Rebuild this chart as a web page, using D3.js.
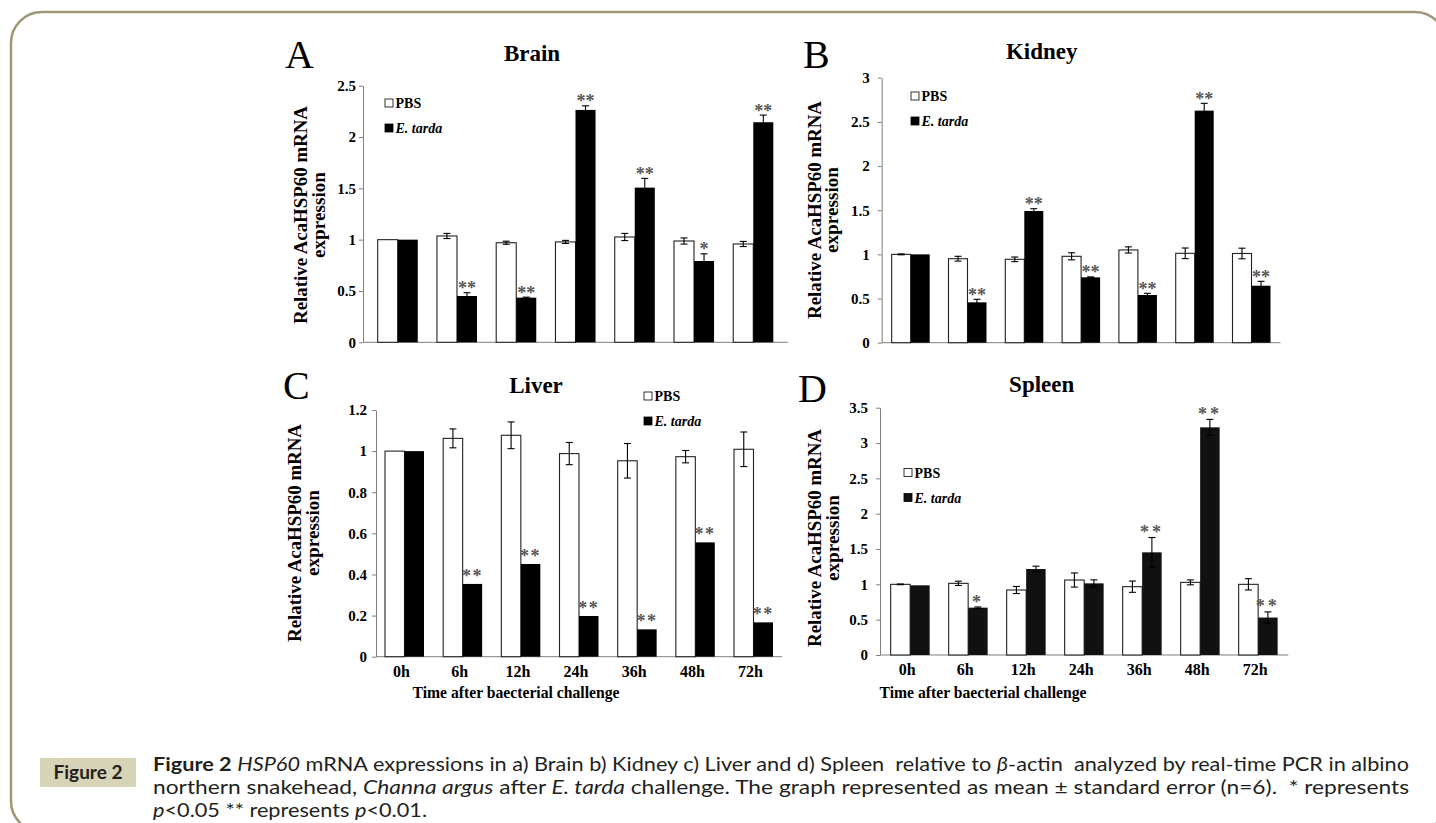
<!DOCTYPE html>
<html>
<head>
<meta charset="utf-8">
<style>
body { margin: 0; background: #fff; }
svg { display: block; }
.serif { font-family: "Liberation Serif", "Times New Roman", serif; }
.axis .domain, .axis line { stroke: #7f7f7f; }
.axis text { font: bold 15px "Liberation Serif", serif; fill: #000; }
.caption { font-family: Lato, "Open Sans", sans-serif; fill: #231f20; white-space: pre; }
</style>
<script src="https://d3js.org/d3.v7.min.js"></script>
</head>
<body>
<svg width="1436" height="823"></svg>
<script>
// data
var times = ["0h", "6h", "12h", "24h", "36h", "48h", "72h"];
var series = ["PBS", "E. tarda"];

var brainTicks = [0, 0.5, 1, 1.5, 2, 2.5];
var brainPBS = [1.00, 1.036, 0.970, 0.978, 1.026, 0.987, 0.958];
var brainPBSErr = [0, 0.025, 0.015, 0.015, 0.035, 0.03, 0.025];
var brainEt = [1.00, 0.451, 0.435, 2.264, 1.507, 0.792, 2.144];
var brainEtErr = [0, 0.032, 0.005, 0.04, 0.09, 0.07, 0.07];
var brainSig = ["", "**", "**", "**", "**", "*", "**"];

var kidneyTicks = [0, 0.5, 1, 1.5, 2, 2.5, 3];
var kidneyPBS = [1.00, 0.951, 0.944, 0.978, 1.050, 1.012, 1.010];
var kidneyPBSErr = [0.005, 0.027, 0.026, 0.04, 0.035, 0.06, 0.06];
var kidneyEt = [1.00, 0.457, 1.491, 0.740, 0.540, 2.627, 0.645];
var kidneyEtErr = [0, 0.034, 0.026, 0.005, 0.019, 0.083, 0.05];
var kidneySig = ["", "**", "**", "**", "**", "**", "**"];

var liverTicks = [0, 0.2, 0.4, 0.6, 0.8, 1, 1.2];
var liverPBS = [1.00, 1.062, 1.077, 0.988, 0.953, 0.973, 1.009];
var liverPBSErr = [0, 0.046, 0.065, 0.054, 0.084, 0.03, 0.084];
var liverEt = [1.00, 0.354, 0.451, 0.198, 0.133, 0.556, 0.167];
var liverEtErr = [0, 0, 0, 0, 0, 0, 0];
var liverSig = ["", "**", "**", "**", "**", "**", "**"];

var spleenTicks = [0, 0.5, 1, 1.5, 2, 2.5, 3, 3.5];
var spleenPBS = [1.00, 1.014, 0.920, 1.061, 0.967, 1.028, 1.000];
var spleenPBSErr = [0.005, 0.03, 0.05, 0.1, 0.08, 0.035, 0.08];
var spleenEt = [0.986, 0.670, 1.217, 1.014, 1.453, 3.222, 0.530];
var spleenEtErr = [0, 0.01, 0.04, 0.05, 0.21, 0.113, 0.08];
var spleenSig = ["", "*", "", "", "**", "**", "**"];

var panels = [
  {letter: "A", title: "Brain", pbs: brainPBS, pbsErr: brainPBSErr, et: brainEt, etErr: brainEtErr, sig: brainSig, ticks: brainTicks,
   L: {xs: 363, xe: 788, y0: 342.3, yt: 85.7, pi: 0.324, po: 0.248, tickPad: 3,
       lx: 285, ly: 68, tx: 532, ty: 61, gx: 385, gy: 99, yl1: 307, yl2: 324.5, ylc: 215, star: 3, ls: 0, fill: "#000"}},
  {letter: "B", title: "Kidney", pbs: kidneyPBS, pbsErr: kidneyPBSErr, et: kidneyEt, etErr: kidneyEtErr, sig: kidneySig, ticks: kidneyTicks,
   L: {xs: 881.7, xe: 1280.5, y0: 342.7, yt: 77.7, pi: 0.331, po: 0.176, tickPad: 8,
       lx: 803, ly: 68, tx: 1041.7, ty: 59, gx: 911, gy: 92, yl1: 820.5, yl2: 838, ylc: 210, star: 3, ls: 0, fill: "#000"}},
  {letter: "C", title: "Liver", pbs: liverPBS, pbsErr: liverPBSErr, et: liverEt, etErr: liverEtErr, sig: liverSig, ticks: liverTicks,
   L: {xs: 376, xe: 782, y0: 656.7, yt: 410, pi: 0.33, po: 0.155, tickPad: 5,
       lx: 283, ly: 399, tx: 536, ty: 393, gx: 644, gy: 392, yl1: 300.5, yl2: 319, ylc: 533, star: 7, ls: 1.5, fill: "#000",
       xlab: 677, xtx: 516}},
  {letter: "D", title: "Spleen", pbs: spleenPBS, pbsErr: spleenPBSErr, et: spleenEt, etErr: spleenEtErr, sig: spleenSig, ticks: spleenTicks,
   L: {xs: 880, xe: 1288.3, y0: 655, yt: 407.7, pi: 0.328, po: 0.184, tickPad: 8,
       lx: 798, ly: 402, tx: 1041.7, ty: 392, gx: 904, gy: 468.5, yl1: 820.5, yl2: 839, ylc: 538, star: 4, ls: 3, fill: "#111",
       xlab: 675, xtx: 983}}
];

var svg = d3.select("svg");

svg.append("rect")
    .attr("x", 11).attr("y", 12)
    .attr("width", 1435).attr("height", 820)
    .attr("rx", 31)
    .attr("fill", "none")
    .attr("stroke", "#9f9676")
    .attr("stroke-width", 2.5);

panels.forEach(function(p) {
  var L = p.L;
  var g = svg.append("g").attr("class", "serif");

  var x = d3.scaleBand().domain(times).range([L.xs, L.xe])
      .paddingInner(L.pi).paddingOuter(L.po);
  var xs = d3.scaleBand().domain(series).range([0, x.bandwidth()]);
  var y = d3.scaleLinear().domain([0, d3.max(p.ticks)]).range([L.y0, L.yt]);

  // letter + title
  g.append("text").attr("x", L.lx).attr("y", L.ly)
      .attr("font-size", 40).text(p.letter);
  g.append("text").attr("x", L.tx).attr("y", L.ty)
      .attr("text-anchor", "middle").attr("font-size", 23).attr("font-weight", "bold")
      .text(p.title);

  // y axis
  g.append("g").attr("class", "axis")
      .attr("transform", "translate(" + L.xs + ",0)")
      .call(d3.axisLeft(y).tickValues(p.ticks).tickFormat(function(d) { return String(d); })
        .tickSize(4).tickSizeOuter(0).tickPadding(L.tickPad));

  // x axis line
  g.append("line").attr("x1", L.xs).attr("x2", L.xe)
      .attr("y1", L.y0).attr("y2", L.y0)
      .attr("stroke", "#7f7f7f");

  // bars
  var rows = times.map(function(t, i) {
    return [
      {t: t, s: series[0], v: p.pbs[i], e: p.pbsErr[i]},
      {t: t, s: series[1], v: p.et[i], e: p.etErr[i], sig: p.sig[i]}
    ];
  });
  var grp = g.append("g").selectAll("g").data(rows).enter().append("g")
      .attr("transform", function(d) { return "translate(" + x(d[0].t) + ",0)"; });

  grp.selectAll("rect").data(function(d) { return d; }).enter().append("rect")
      .attr("x", function(d) { return xs(d.s); })
      .attr("y", function(d) { return y(d.v); })
      .attr("width", xs.bandwidth())
      .attr("height", function(d) { return y(0) - y(d.v); })
      .attr("fill", function(d) { return d.s === "PBS" ? "#fff" : L.fill; })
      .attr("stroke", function(d) { return d.s === "PBS" ? "#222" : "none"; })
      .attr("stroke-width", 1.1);

  // error bars
  var eb = grp.selectAll("g.err").data(function(d) { return d.filter(function(e) { return e.e > 0; }); })
      .enter().append("g").attr("class", "err")
      .attr("stroke", "#000").attr("stroke-width", 1.1);
  function cx(d) { return xs(d.s) + xs.bandwidth() / 2; }
  eb.append("line").attr("x1", cx).attr("x2", cx)
      .attr("y1", function(d) { return y(d.v - d.e); })
      .attr("y2", function(d) { return y(d.v + d.e); });
  [-1, 1].forEach(function(k) {
    eb.append("line")
        .attr("x1", function(d) { return cx(d) - 3.5; })
        .attr("x2", function(d) { return cx(d) + 3.5; })
        .attr("y1", function(d) { return y(d.v + k * d.e); })
        .attr("y2", function(d) { return y(d.v + k * d.e); });
  });

  // significance stars
  grp.selectAll("text.sig").data(function(d) { return d.filter(function(e) { return e.sig; }); })
      .enter().append("text").attr("class", "sig")
      .attr("x", cx)
      .attr("y", function(d) { return y(d.v + d.e) - L.star + 4.6; })
      .attr("text-anchor", "middle")
      .attr("font-size", 18).attr("font-weight", "bold")
      .attr("letter-spacing", L.ls)
      .attr("fill", "#555")
      .text(function(d) { return d.sig; });

  // legend
  var lg = g.append("g").attr("font-size", 14).attr("font-weight", "bold");
  series.forEach(function(s, i) {
    lg.append("rect").attr("x", L.gx).attr("y", L.gy + i * 25)
        .attr("width", 8).attr("height", 8)
        .attr("fill", i ? L.fill : "#fff")
        .attr("stroke", "#000").attr("stroke-width", 0.8);
    lg.append("text").attr("x", L.gx + 10.5).attr("y", L.gy + i * 25 + 9)
        .attr("font-style", i ? "italic" : "normal")
        .text(s);
  });

  // y label, two lines
  [["Relative AcaHSP60 mRNA", L.yl1, 218], ["expression", L.yl2, 86]].forEach(function(r) {
    g.append("text")
        .attr("transform", "translate(" + r[1] + "," + L.ylc + ") rotate(-90)")
        .attr("text-anchor", "middle")
        .attr("font-size", 18).attr("font-weight", "bold")
        .attr("textLength", r[2]).attr("lengthAdjust", "spacingAndGlyphs")
        .text(r[0]);
  });

  // x tick labels + axis title for the bottom row
  if (L.xlab) {
    g.append("g").selectAll("text").data(times).enter().append("text")
        .attr("x", function(d) { return x(d) + x.bandwidth() / 2 - 3; })
        .attr("y", L.xlab)
        .attr("text-anchor", "middle")
        .attr("font-size", 16).attr("font-weight", "bold")
        .text(function(d) { return d; });
    g.append("text")
        .attr("x", L.xtx).attr("y", 698)
        .attr("text-anchor", "middle")
        .attr("font-size", 16).attr("font-weight", "bold")
        .attr("textLength", 207).attr("lengthAdjust", "spacingAndGlyphs")
        .text("Time after baecterial challenge");
  }
});

// caption
svg.append("rect").attr("x", 40).attr("y", 758).attr("width", 96).attr("height", 29)
    .attr("fill", "#d7d3b6");
svg.append("text").attr("class", "caption")
    .attr("x", 88).attr("y", 779).attr("text-anchor", "middle")
    .attr("font-size", 19).attr("font-weight", "bold")
    .text("Figure 2");

var capLines = [
  [["Figure 2", "b"], [" ", ""], ["HSP60", "i"], [" mRNA expressions in a) Brain b) Kidney c) Liver and d) Spleen  relative to ", ""], ["β", "i"], ["-actin  analyzed by real-time PCR in albino", ""]],
  [["northern snakehead, ", ""], ["Channa argus", "i"], [" after ", ""], ["E. tarda", "i"], [" challenge. The graph represented as mean ± standard error (n=6).  * represents", ""]],
  [["p", "i"], ["<0.05 ** represents ", ""], ["p", "i"], ["<0.01.", ""]]
];
var capY = [771, 794, 817];
var ratio = 1;
capLines.forEach(function(line, i) {
  var t = svg.append("text").attr("class", "caption")
      .attr("x", 153).attr("y", capY[i]).attr("font-size", 19);
  line.forEach(function(part) {
    t.append("tspan")
        .attr("font-weight", part[1] === "b" ? "bold" : "normal")
        .attr("font-style", part[1] === "i" ? "italic" : "normal")
        .text(part[0]);
  });
  var w = t.node().getComputedTextLength();
  if (i === 0) ratio = 1256 / w;
  t.attr("textLength", i < 2 ? 1256 : w * ratio).attr("lengthAdjust", "spacingAndGlyphs");
});
</script>
</body>
</html>
